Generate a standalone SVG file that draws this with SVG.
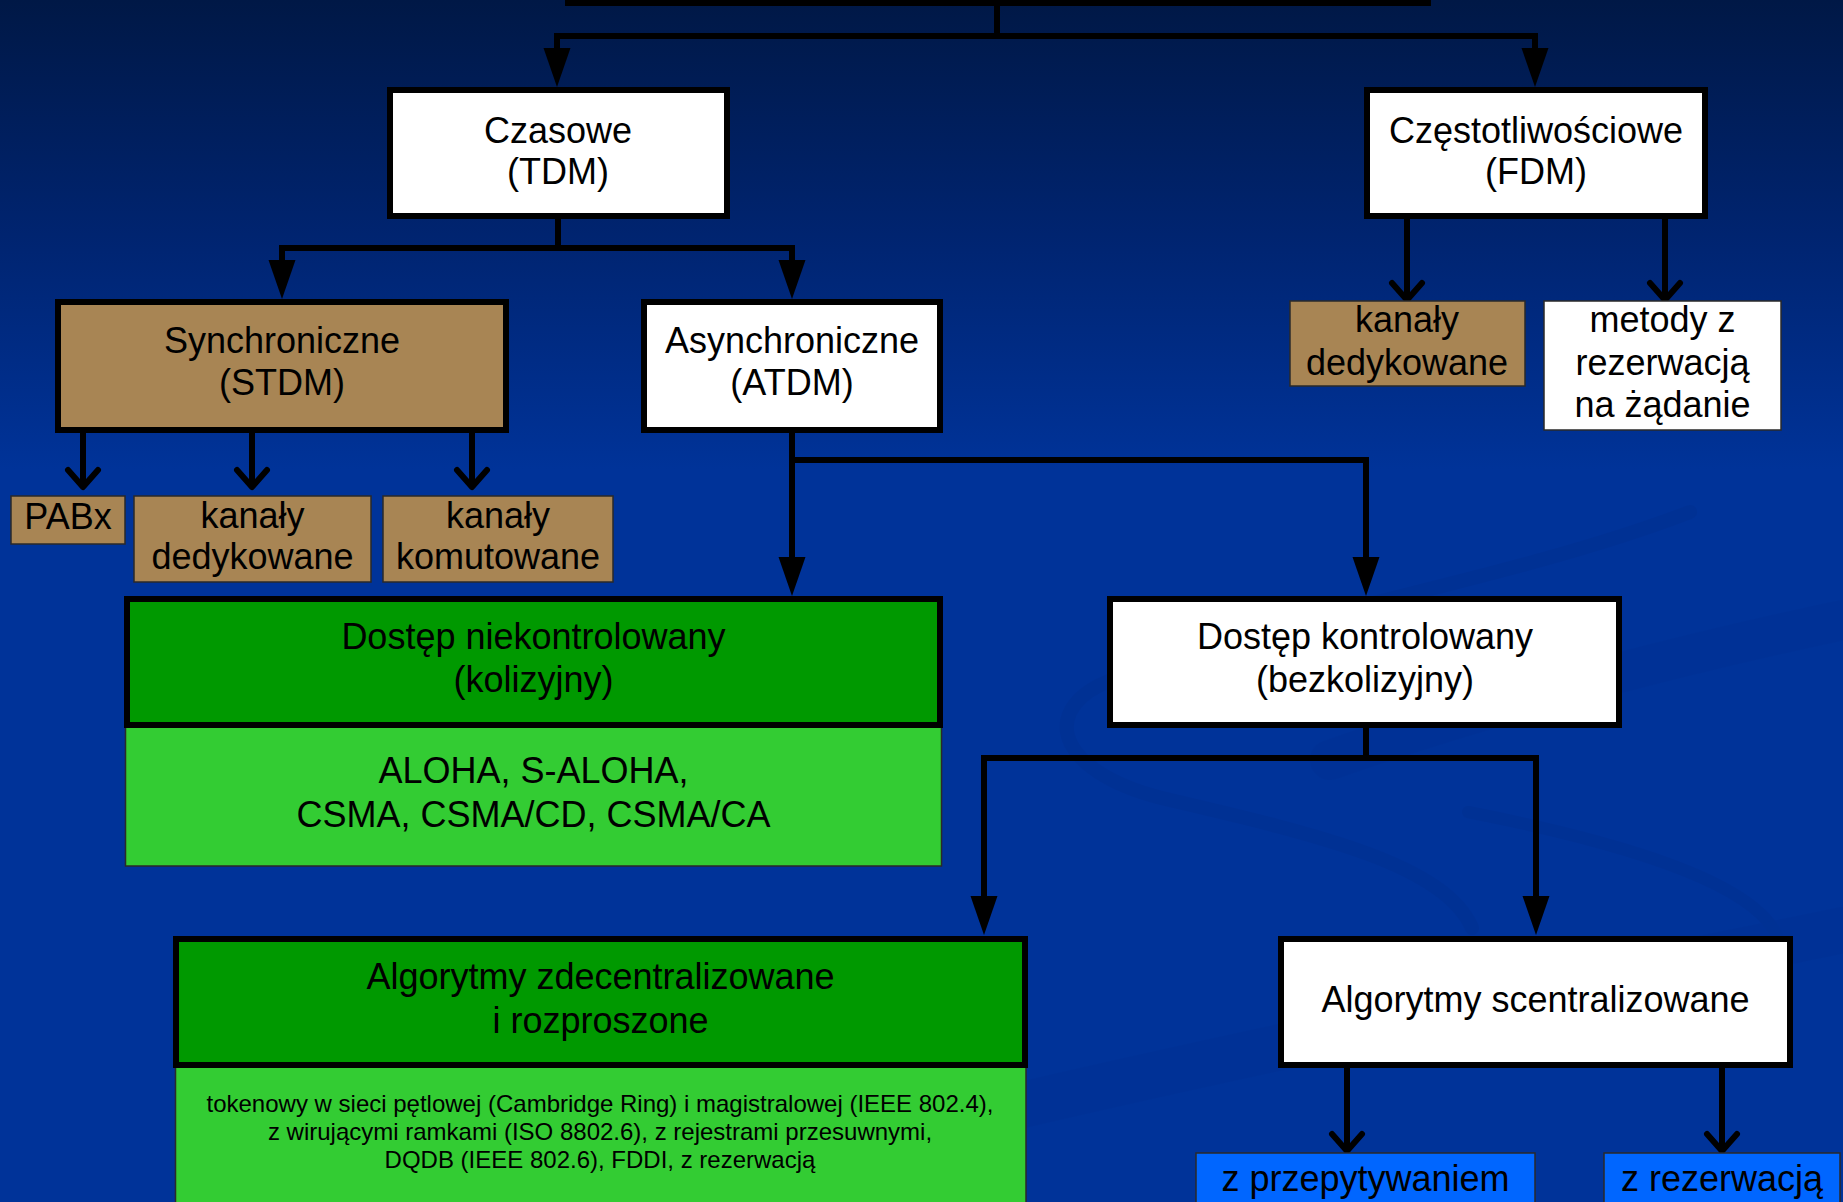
<svg xmlns="http://www.w3.org/2000/svg" width="1843" height="1202" viewBox="0 0 1843 1202">
  <defs>
    <linearGradient id="bg" x1="0" y1="0" x2="0" y2="470" gradientUnits="userSpaceOnUse">
      <stop offset="0" stop-color="#001846"/>
      <stop offset="0.5" stop-color="#002470"/>
      <stop offset="1" stop-color="#003399"/>
    </linearGradient>
    <!-- solid triangular head: base sits at the path end -->
    <marker id="head" markerUnits="userSpaceOnUse" orient="auto" refX="0" refY="0" markerWidth="40" markerHeight="28" viewBox="0 -14 40 28" overflow="visible">
      <path d="M0,-13.5 L39,0 L0,13.5 Z" fill="#000"/>
    </marker>
    <!-- open V head: apex sits at the path end -->
    <marker id="vee" markerUnits="userSpaceOnUse" orient="auto" refX="0" refY="0" markerWidth="24" markerHeight="36" viewBox="-20 -18 24 36" overflow="visible">
      <path d="M-17,-15 L0,0 L-17,15" fill="none" stroke="#000" stroke-width="6" stroke-linejoin="round" stroke-linecap="round"/>
    </marker>
  </defs>
  <style>
    .big { font-family: "Liberation Sans", Arial, sans-serif; font-size: 36px; fill: #000; text-anchor: middle; }
    .small { font-family: "Liberation Sans", Arial, sans-serif; font-size: 24px; fill: #000; text-anchor: middle; }
    .thick { stroke: #000; stroke-width: 6; }
    .thin { stroke: #2a2a2a; stroke-width: 1.5; }
    .white { fill: #ffffff; }
    .brown { fill: #A88554; }
    .dkgreen { fill: #009900; }
    .ltgreen { fill: #33CC33; }
    .blue { fill: #0066FF; }
    .line { fill: none; stroke: #000; stroke-width: 6; stroke-linejoin: miter; }
    .solid { marker-end: url(#head); }
    .open { marker-end: url(#vee); }
    .swoosh { fill: none; stroke: #002d88; stroke-linecap: round; }
  </style>

  <!-- background -->
  <rect x="0" y="0" width="1843" height="1202" fill="url(#bg)"/>
  <g id="backdrop" opacity="0.28">
    <path class="swoosh" stroke-width="14" d="M1690,512 C1500,585 1230,625 1100,685 C1040,715 1060,775 1170,800 C1320,835 1445,865 1472,928"/>
    <path class="swoosh" stroke-width="12" d="M1468,812 C1610,840 1755,880 1778,938"/>
    <path class="swoosh" stroke-width="46" opacity="0.6" d="M1000,1110 C1300,1040 1600,980 1843,930"/>
    <path class="swoosh" stroke-width="40" opacity="0.6" d="M1330,760 C1500,700 1700,650 1843,620"/>
  </g>

  <!-- connectors -->
  <g id="connectors">
    <path class="line solid" d="M997,6 V36 H557 V48"/>
    <path class="line solid" d="M997,36 H1535 V48"/>
    <path class="line solid" d="M558,219 V248 H282 V260"/>
    <path class="line solid" d="M558,248 H792 V260"/>
    <path class="line open" d="M83,433 V487"/>
    <path class="line open" d="M252,433 V487"/>
    <path class="line open" d="M472,433 V487"/>
    <path class="line solid" d="M792,433 V557"/>
    <path class="line solid" d="M792,460 H1366 V557"/>
    <path class="line open" d="M1407,219 V300"/>
    <path class="line open" d="M1665,219 V300"/>
    <path class="line solid" d="M1366,728 V758 H984 V896"/>
    <path class="line solid" d="M1366,758 H1536 V896"/>
    <path class="line open" d="M1347,1068 V1151"/>
    <path class="line open" d="M1722,1068 V1151"/>
  </g>

  <!-- nodes -->
  <g id="root">
    <rect class="white thick" x="568" y="-60" width="860" height="63"/>
  </g>

  <g id="tdm">
    <rect class="white thick" x="390" y="90" width="337" height="126"/>
    <text class="big" x="558" y="143">Czasowe</text>
    <text class="big" x="558" y="184">(TDM)</text>
  </g>

  <g id="fdm">
    <rect class="white thick" x="1367" y="90" width="338" height="126"/>
    <text class="big" x="1536" y="143">Częstotliwościowe</text>
    <text class="big" x="1536" y="184">(FDM)</text>
  </g>

  <g id="stdm">
    <rect class="brown thick" x="58" y="302" width="448" height="128"/>
    <text class="big" x="282" y="353">Synchroniczne</text>
    <text class="big" x="282" y="395">(STDM)</text>
  </g>

  <g id="atdm">
    <rect class="white thick" x="644" y="302" width="296" height="128"/>
    <text class="big" x="792" y="353">Asynchroniczne</text>
    <text class="big" x="792" y="395">(ATDM)</text>
  </g>

  <g id="pabx">
    <rect class="brown thin" x="11" y="496" width="114" height="48"/>
    <text class="big" x="68" y="529">PABx</text>
  </g>

  <g id="stdm-dedicated">
    <rect class="brown thin" x="134" y="496" width="237" height="86"/>
    <text class="big" x="252.5" y="528">kanały</text>
    <text class="big" x="252.5" y="569">dedykowane</text>
  </g>

  <g id="stdm-switched">
    <rect class="brown thin" x="383" y="496" width="230" height="86"/>
    <text class="big" x="498" y="528">kanały</text>
    <text class="big" x="498" y="569">komutowane</text>
  </g>

  <g id="fdm-dedicated">
    <rect class="brown thin" x="1290" y="301" width="235" height="85"/>
    <text class="big" x="1407" y="332">kanały</text>
    <text class="big" x="1407" y="375">dedykowane</text>
  </g>

  <g id="fdm-on-demand">
    <rect class="white thin" x="1544" y="301" width="237" height="129"/>
    <text class="big" x="1662.5" y="332">metody z</text>
    <text class="big" x="1662.5" y="375">rezerwacją</text>
    <text class="big" x="1662.5" y="417">na żądanie</text>
  </g>

  <g id="uncontrolled">
    <rect class="ltgreen thin" x="125.5" y="726" width="816" height="140"/>
    <rect class="dkgreen thick" x="127" y="599" width="813" height="126"/>
    <text class="big" x="533.5" y="649">Dostęp niekontrolowany</text>
    <text class="big" x="533.5" y="692">(kolizyjny)</text>
    <text class="big" x="533.5" y="783">ALOHA, S-ALOHA,</text>
    <text class="big" x="533.5" y="827">CSMA, CSMA/CD, CSMA/CA</text>
  </g>

  <g id="controlled">
    <rect class="white thick" x="1110" y="599" width="509" height="126"/>
    <text class="big" x="1365" y="649">Dostęp kontrolowany</text>
    <text class="big" x="1365" y="692">(bezkolizyjny)</text>
  </g>

  <g id="distributed">
    <rect class="ltgreen thin" x="175.5" y="1066" width="850.5" height="150"/>
    <rect class="dkgreen thick" x="176" y="939" width="849" height="126"/>
    <text class="big" x="600.5" y="989">Algorytmy zdecentralizowane</text>
    <text class="big" x="600.5" y="1033">i rozproszone</text>
    <text class="small" x="600" y="1112">tokenowy w sieci pętlowej (Cambridge Ring) i magistralowej (IEEE 802.4),</text>
    <text class="small" x="600" y="1140">z wirującymi ramkami (ISO 8802.6), z rejestrami przesuwnymi,</text>
    <text class="small" x="600" y="1168">DQDB (IEEE 802.6), FDDI, z rezerwacją</text>
  </g>

  <g id="centralized">
    <rect class="white thick" x="1281" y="939" width="509" height="126"/>
    <text class="big" x="1535.5" y="1012">Algorytmy scentralizowane</text>
  </g>

  <g id="polling">
    <rect class="blue thin" x="1196" y="1153" width="339" height="60"/>
    <text class="big" x="1365.5" y="1191">z przepytywaniem</text>
  </g>

  <g id="reservation">
    <rect class="blue thin" x="1604" y="1153" width="236" height="60"/>
    <text class="big" x="1722" y="1191">z rezerwacją</text>
  </g>
</svg>
